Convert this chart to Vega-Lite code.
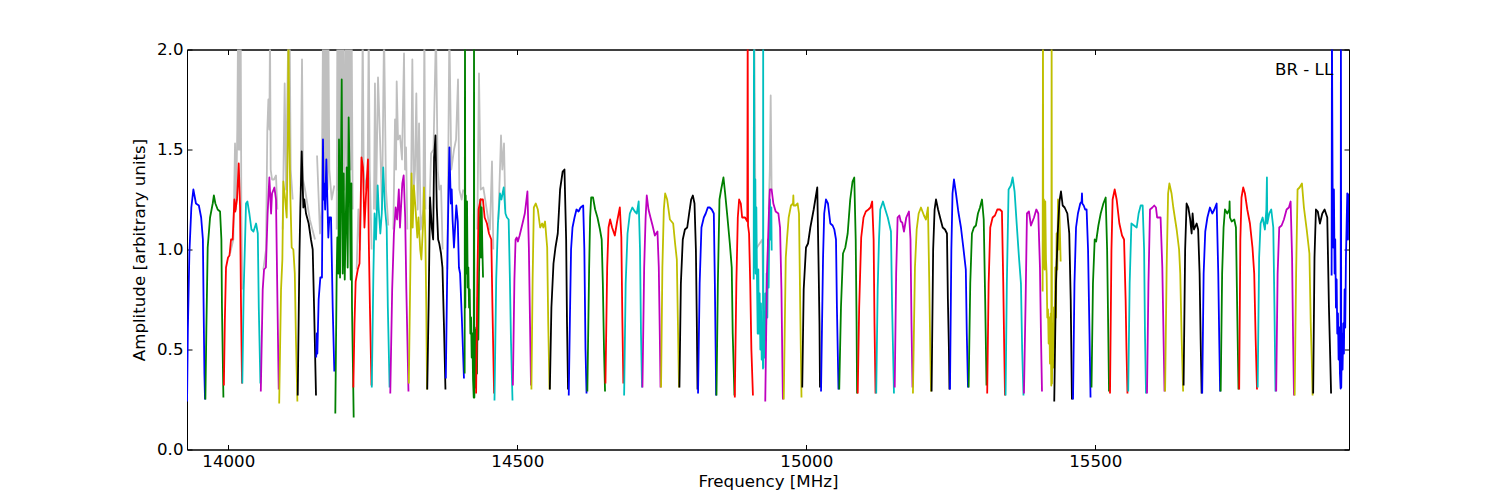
{"$schema":"https://vega.github.io/schema/vega-lite/v6.json","width":1162,"height":400,"autosize":"none","padding":{"left":187,"top":49.5,"right":151,"bottom":50.5},"background":"white","config":{"view":{"stroke":"black","strokeWidth":1},"font":"DejaVu Sans","axis":{"labelFont":"DejaVu Sans","titleFont":"DejaVu Sans","labelFontSize":16.67,"titleFontSize":16.67,"titleFontWeight":"normal","labelColor":"black","titleColor":"black","domainColor":"black","tickColor":"black","grid":false}},"datasets":{"gray":[
{"b":2,"f":14003,"a":0.98},{"b":2,"f":14008.7,"a":1.05},{"b":2,"f":14011.6,"a":1.53},{"b":2,"f":14013.3,"a":1.2},{"b":2,"f":14015.5,"a":1.6},{"b":2,"f":14016.8,"a":2.1},{"b":2,"f":14017.9,"a":1.5},{"b":2,"f":14019.1,"a":2.1},{"b":2,"f":14020.2,"a":1.5},{"b":2,"f":14021.4,"a":2.1},{"b":2,"f":14022.5,"a":1.2},{"b":2,"f":14024.3,"a":0.8},
{"b":4,"f":14060.6,"a":0.9},{"b":4,"f":14065.2,"a":1.0},{"b":4,"f":14067.5,"a":1.6},{"b":4,"f":14069.3,"a":1.75},{"b":4,"f":14071,"a":1.6},{"b":4,"f":14072.1,"a":2.1},{"b":4,"f":14073.3,"a":1.4},{"b":4,"f":14075.6,"a":1.35},{"b":4,"f":14079,"a":1.35},{"b":4,"f":14082.5,"a":1.37},{"b":4,"f":14084.8,"a":1.2},
{"b":5,"f":14094,"a":1.1},{"b":5,"f":14097.5,"a":1.83},{"b":5,"f":14099.8,"a":1.3},{"b":5,"f":14103.8,"a":2.1},{"b":5,"f":14106.1,"a":2.1},{"b":5,"f":14107.9,"a":1.4},{"b":5,"f":14111.4,"a":1.25},
{"b":6,"f":14125.2,"a":1.3},{"b":6,"f":14127.5,"a":1.95},{"b":6,"f":14129.2,"a":1.35},{"b":6,"f":14132.7,"a":1.3},{"b":6,"f":14141,"a":1.15},{"b":6,"f":14150,"a":1.05},
{"b":7,"f":14153.5,"a":1.47},{"b":7,"f":14158.6,"a":1.08},{"b":7,"f":14161.5,"a":1.2},{"b":7,"f":14163.8,"a":2.1},{"b":7,"f":14165,"a":1.3},{"b":7,"f":14166.1,"a":2.1},{"b":7,"f":14167.3,"a":1.3},{"b":7,"f":14168.5,"a":2.1},{"b":7,"f":14169.6,"a":1.3},{"b":7,"f":14170.8,"a":2.1},{"b":7,"f":14171.9,"a":1.3},{"b":7,"f":14173.1,"a":2.1},{"b":7,"f":14174.8,"a":1.4},{"b":7,"f":14178.8,"a":1.25},{"b":7,"f":14183.4,"a":1.32},
{"b":8,"f":14187.5,"a":1.1},{"b":8,"f":14188.6,"a":2.1},{"b":8,"f":14190.4,"a":1.3},{"b":8,"f":14192.1,"a":2.1},{"b":8,"f":14193.8,"a":1.4},{"b":8,"f":14195.6,"a":2.1},{"b":8,"f":14197.3,"a":1.4},{"b":8,"f":14199,"a":2.1},{"b":8,"f":14200.8,"a":1.3},{"b":8,"f":14203,"a":2.1},{"b":8,"f":14204.8,"a":1.4},{"b":8,"f":14206.5,"a":2.1},{"b":8,"f":14208.2,"a":1.4},{"b":8,"f":14210,"a":2.1},{"b":8,"f":14211.7,"a":1.4},{"b":8,"f":14213.4,"a":2.1},{"b":8,"f":14215.2,"a":1.2},
{"b":9,"f":14222,"a":0.9},{"b":9,"f":14225,"a":1.2},{"b":9,"f":14227.9,"a":1.0},{"b":9,"f":14230.7,"a":1.4},{"b":9,"f":14232.5,"a":2.1},{"b":9,"f":14234.2,"a":1.4},{"b":9,"f":14237.7,"a":1.3},{"b":9,"f":14241.1,"a":1.4},{"b":9,"f":14242.9,"a":2.1},{"b":9,"f":14244.6,"a":1.4},{"b":9,"f":14248,"a":1.0},
{"b":10,"f":14252,"a":1.2},{"b":10,"f":14253.7,"a":1.83},{"b":10,"f":14255.5,"a":1.2},{"b":10,"f":14259,"a":1.86},{"b":10,"f":14262.5,"a":1.55},{"b":10,"f":14266,"a":1.2},{"b":10,"f":14269.4,"a":2.1},{"b":10,"f":14272.8,"a":1.3},{"b":10,"f":14276.8,"a":1.12},
{"b":11,"f":14285.5,"a":1.1},{"b":11,"f":14288.4,"a":1.65},{"b":11,"f":14290.2,"a":1.4},{"b":11,"f":14291.3,"a":1.84},{"b":11,"f":14293.6,"a":1.55},{"b":11,"f":14297,"a":1.57},{"b":11,"f":14300.5,"a":1.45},{"b":11,"f":14304,"a":1.98},{"b":11,"f":14305.7,"a":1.4},{"b":11,"f":14307.5,"a":1.51},{"b":11,"f":14309.8,"a":1.1},
{"b":12,"f":14315.5,"a":1.1},{"b":12,"f":14318.4,"a":1.95},{"b":12,"f":14320.7,"a":1.3},{"b":12,"f":14323,"a":1.4},{"b":12,"f":14325.3,"a":1.78},{"b":12,"f":14327.6,"a":1.2},{"b":12,"f":14330,"a":1.63},{"b":12,"f":14332.9,"a":1.1},{"b":12,"f":14337.5,"a":1.2},{"b":12,"f":14339.2,"a":2.1},{"b":12,"f":14341,"a":1.2},
{"b":13,"f":14347.9,"a":1.2},{"b":13,"f":14350.8,"a":1.48},{"b":13,"f":14355,"a":1.5},{"b":13,"f":14359.3,"a":2.1},{"b":13,"f":14362.2,"a":1.4},{"b":13,"f":14365,"a":1.3},{"b":13,"f":14368,"a":1.32},{"b":13,"f":14370.8,"a":1.0},
{"b":14,"f":14379,"a":0.9},{"b":14,"f":14382.4,"a":2.1},{"b":14,"f":14385.9,"a":1.4},{"b":14,"f":14390.5,"a":1.5},{"b":14,"f":14394,"a":1.55},{"b":14,"f":14397.4,"a":1.85},{"b":14,"f":14399.7,"a":1.3},{"b":14,"f":14403.7,"a":1.25},{"b":14,"f":14406.6,"a":1.3},
{"b":16,"f":14430.8,"a":1.1},{"b":16,"f":14433.7,"a":1.88},{"b":16,"f":14436.6,"a":1.3},{"b":16,"f":14441.2,"a":1.31},{"b":16,"f":14447,"a":1.2},{"b":16,"f":14452.7,"a":1.1},{"b":16,"f":14456.2,"a":1.44},{"b":16,"f":14458.5,"a":1.0},
{"b":17,"f":14467.2,"a":1.15},{"b":17,"f":14470,"a":1.4},{"b":17,"f":14471.8,"a":1.57},{"b":17,"f":14474.1,"a":1.4},{"b":17,"f":14477,"a":1.53},{"b":17,"f":14479.3,"a":1.2},
{"b":31,"f":14910.1,"a":2.1},{"b":31,"f":14912.4,"a":1.0},{"b":31,"f":14923.9,"a":1.05},{"b":31,"f":14925.7,"a":0.7},
{"b":32,"f":14935,"a":1.2},{"b":32,"f":14936.9,"a":1.4},{"b":32,"f":14938.4,"a":1.77},{"b":32,"f":14940,"a":1.3}
],"bands":[
{"b":0,"f":13928.6,"a":0.24},{"b":0,"f":13930,"a":0.6},{"b":0,"f":13932.6,"a":0.98},{"b":0,"f":13936,"a":1.21},{"b":0,"f":13939.5,"a":1.3},{"b":0,"f":13944,"a":1.23},{"b":0,"f":13949,"a":1.22},{"b":0,"f":13953,"a":1.16},{"b":0,"f":13956,"a":1.05},{"b":0,"f":13957,"a":0.78},{"b":0,"f":13958.6,"a":0.38},{"b":0,"f":13959.7,"a":0.25},
{"b":1,"f":13960.3,"a":0.25},{"b":1,"f":13962,"a":0.6},{"b":1,"f":13964.3,"a":1.01},{"b":1,"f":13968.4,"a":1.16},{"b":1,"f":13973,"a":1.23},{"b":1,"f":13975,"a":1.27},{"b":1,"f":13977.6,"a":1.23},{"b":1,"f":13981.6,"a":1.2},{"b":1,"f":13985.7,"a":1.19},{"b":1,"f":13988,"a":1.05},{"b":1,"f":13989,"a":0.71},{"b":1,"f":13991.5,"a":0.26},
{"b":2,"f":13992.3,"a":0.32},{"b":2,"f":13994,"a":0.65},{"b":2,"f":13996,"a":0.91},{"b":2,"f":13999.5,"a":0.96},{"b":2,"f":14002,"a":0.97},{"b":2,"f":14004.7,"a":1.05},{"b":2,"f":14007.5,"a":1.05},{"b":2,"f":14010.5,"a":1.25},{"b":2,"f":14012,"a":1.19},{"b":2,"f":14015,"a":1.25},{"b":2,"f":14018,"a":1.43},{"b":2,"f":14020.3,"a":1.21},{"b":2,"f":14022,"a":0.71},{"b":2,"f":14023.7,"a":0.33},
{"b":3,"f":14024.2,"a":0.33},{"b":3,"f":14026.6,"a":0.8},{"b":3,"f":14029,"a":1.05},{"b":3,"f":14030.6,"a":1.23},{"b":3,"f":14033,"a":1.24},{"b":3,"f":14036.4,"a":1.18},{"b":3,"f":14040,"a":1.1},{"b":3,"f":14043.5,"a":1.09},{"b":3,"f":14048,"a":1.13},{"b":3,"f":14051,"a":1.08},{"b":3,"f":14052.7,"a":0.71},{"b":3,"f":14055.5,"a":0.33},
{"b":4,"f":14056.2,"a":0.29},{"b":4,"f":14059.5,"a":0.8},{"b":4,"f":14061.8,"a":0.9},{"b":4,"f":14065,"a":0.91},{"b":4,"f":14068,"a":1.18},{"b":4,"f":14071,"a":1.36},{"b":4,"f":14074,"a":1.18},{"b":4,"f":14075.6,"a":1.28},{"b":4,"f":14079.7,"a":1.31},{"b":4,"f":14082.5,"a":1.25},{"b":4,"f":14084.3,"a":0.88},{"b":4,"f":14087.2,"a":0.3},
{"b":5,"f":14088,"a":0.23},{"b":5,"f":14091.2,"a":0.8},{"b":5,"f":14093.5,"a":0.95},{"b":5,"f":14095.2,"a":1.34},{"b":5,"f":14098,"a":1.26},{"b":5,"f":14101,"a":1.16},{"b":5,"f":14103.2,"a":1.6},{"b":5,"f":14104,"a":2.1},{"b":5,"f":14105.5,"a":1.6},{"b":5,"f":14107,"a":1.3},{"b":5,"f":14109.6,"a":1.01},{"b":5,"f":14112.5,"a":1.0},{"b":5,"f":14115,"a":0.88},{"b":5,"f":14117,"a":0.55},{"b":5,"f":14119.5,"a":0.24},
{"b":6,"f":14120.1,"a":0.27},{"b":6,"f":14123,"a":0.96},{"b":6,"f":14124.6,"a":1.21},{"b":6,"f":14127,"a":1.49},{"b":6,"f":14129.8,"a":1.21},{"b":6,"f":14131.5,"a":1.25},{"b":6,"f":14134.4,"a":1.18},{"b":6,"f":14139,"a":1.13},{"b":6,"f":14143,"a":1.05},{"b":6,"f":14146,"a":1.0},{"b":6,"f":14148.4,"a":0.71},{"b":6,"f":14151.7,"a":0.27},
{"b":7,"f":14152,"a":0.46},{"b":7,"f":14153,"a":0.58},{"b":7,"f":14154,"a":0.48},{"b":7,"f":14156.3,"a":0.75},{"b":7,"f":14159.2,"a":0.86},{"b":7,"f":14162,"a":0.86},{"b":7,"f":14163.8,"a":1.55},{"b":7,"f":14165,"a":1.25},{"b":7,"f":14166,"a":1.33},{"b":7,"f":14167.5,"a":1.2},{"b":7,"f":14169.6,"a":1.45},{"b":7,"f":14171.5,"a":1.23},{"b":7,"f":14173,"a":1.06},{"b":7,"f":14174.8,"a":1.16},{"b":7,"f":14177.7,"a":1.16},{"b":7,"f":14180.6,"a":0.71},{"b":7,"f":14183.4,"a":0.39},
{"b":8,"f":14185.1,"a":0.18},{"b":8,"f":14187.5,"a":0.88},{"b":8,"f":14188.6,"a":1.06},{"b":8,"f":14190.4,"a":0.88},{"b":8,"f":14191.5,"a":1.55},{"b":8,"f":14193.3,"a":0.86},{"b":8,"f":14195,"a":1.46},{"b":8,"f":14196.2,"a":1.85},{"b":8,"f":14197.9,"a":0.88},{"b":8,"f":14199.6,"a":1.38},{"b":8,"f":14201.4,"a":0.85},{"b":8,"f":14203.1,"a":1.13},{"b":8,"f":14204.8,"a":1.41},{"b":8,"f":14206.5,"a":0.91},{"b":8,"f":14208.2,"a":1.66},{"b":8,"f":14210,"a":1.35},{"b":8,"f":14211.7,"a":0.85},{"b":8,"f":14212.9,"a":1.33},{"b":8,"f":14214,"a":0.71},{"b":8,"f":14215.8,"a":0.38},{"b":8,"f":14216.9,"a":0.16},
{"b":9,"f":14216.3,"a":0.31},{"b":9,"f":14218.3,"a":0.63},{"b":9,"f":14220.3,"a":0.84},{"b":9,"f":14224,"a":0.9},{"b":9,"f":14227,"a":0.93},{"b":9,"f":14230.4,"a":1.46},{"b":9,"f":14233,"a":1.41},{"b":9,"f":14235.5,"a":1.11},{"b":9,"f":14238,"a":1.26},{"b":9,"f":14241.6,"a":1.45},{"b":9,"f":14243,"a":1.05},{"b":9,"f":14245,"a":0.71},{"b":9,"f":14247.7,"a":0.32},
{"b":10,"f":14248.2,"a":0.31},{"b":10,"f":14251,"a":0.88},{"b":10,"f":14253,"a":1.18},{"b":10,"f":14255.5,"a":1.05},{"b":10,"f":14258.4,"a":1.32},{"b":10,"f":14260,"a":1.21},{"b":10,"f":14263,"a":1.08},{"b":10,"f":14265.5,"a":1.18},{"b":10,"f":14268,"a":1.41},{"b":10,"f":14271,"a":1.21},{"b":10,"f":14274,"a":1.11},{"b":10,"f":14276,"a":0.71},{"b":10,"f":14279,"a":0.31},
{"b":11,"f":14280.2,"a":0.28},{"b":11,"f":14283.5,"a":0.8},{"b":11,"f":14286.5,"a":1.08},{"b":11,"f":14289.5,"a":1.21},{"b":11,"f":14292,"a":1.15},{"b":11,"f":14295,"a":1.3},{"b":11,"f":14297,"a":1.11},{"b":11,"f":14301,"a":1.33},{"b":11,"f":14303.4,"a":1.37},{"b":11,"f":14306,"a":1.16},{"b":11,"f":14308,"a":0.8},{"b":11,"f":14311.7,"a":0.29},
{"b":12,"f":14312.3,"a":0.33},{"b":12,"f":14315,"a":0.91},{"b":12,"f":14317,"a":1.38},{"b":12,"f":14319,"a":1.11},{"b":12,"f":14321,"a":1.32},{"b":12,"f":14324,"a":1.2},{"b":12,"f":14327,"a":1.06},{"b":12,"f":14329,"a":1.16},{"b":12,"f":14332,"a":1.0},{"b":12,"f":14334,"a":0.95},{"b":12,"f":14337,"a":1.13},{"b":12,"f":14338.5,"a":1.31},{"b":12,"f":14341,"a":1.05},{"b":12,"f":14342.5,"a":0.71},{"b":12,"f":14343.8,"a":0.3},
{"b":13,"f":14344.2,"a":0.3},{"b":13,"f":14346.5,"a":0.71},{"b":13,"f":14349,"a":1.26},{"b":13,"f":14352,"a":1.11},{"b":13,"f":14354.4,"a":1.05},{"b":13,"f":14356,"a":1.46},{"b":13,"f":14358.4,"a":1.57},{"b":13,"f":14360.7,"a":1.21},{"b":13,"f":14363,"a":1.05},{"b":13,"f":14365,"a":1.03},{"b":13,"f":14368,"a":0.98},{"b":13,"f":14370.5,"a":0.91},{"b":13,"f":14373,"a":0.63},{"b":13,"f":14375.7,"a":0.3},
{"b":14,"f":14376.3,"a":0.355},{"b":14,"f":14379.5,"a":1.05},{"b":14,"f":14382.5,"a":1.51},{"b":14,"f":14385,"a":1.23},{"b":14,"f":14386.5,"a":1.3},{"b":14,"f":14388,"a":1.15},{"b":14,"f":14390.4,"a":1.01},{"b":14,"f":14394.5,"a":1.22},{"b":14,"f":14397,"a":1.14},{"b":14,"f":14399,"a":0.91},{"b":14,"f":14401,"a":0.88},{"b":14,"f":14404,"a":0.66},{"b":14,"f":14407.7,"a":0.355},
{"b":15,"f":14408.9,"a":0.38},{"b":15,"f":14409.5,"a":2.1},{"b":15,"f":14410.1,"a":0.71},{"b":15,"f":14410.7,"a":1.27},{"b":15,"f":14411.9,"a":0.88},{"b":15,"f":14413,"a":1.24},{"b":15,"f":14414.2,"a":0.81},{"b":15,"f":14415.3,"a":0.91},{"b":15,"f":14416.5,"a":0.71},{"b":15,"f":14417.6,"a":0.8},{"b":15,"f":14418.8,"a":0.58},{"b":15,"f":14420,"a":0.66},{"b":15,"f":14421.1,"a":0.46},{"b":15,"f":14422.2,"a":0.58},{"b":15,"f":14423.4,"a":0.35},{"b":15,"f":14424.6,"a":0.26},{"b":15,"f":14425.1,"a":2.1},{"b":15,"f":14425.7,"a":0.26},{"b":15,"f":14426.9,"a":0.6},{"b":15,"f":14428,"a":0.31},{"b":15,"f":14429.2,"a":0.61},{"b":15,"f":14430.3,"a":0.38},{"b":15,"f":14431.5,"a":0.76},{"b":15,"f":14432.6,"a":0.55},{"b":15,"f":14433.8,"a":0.88},{"b":15,"f":14434.9,"a":1.11},{"b":15,"f":14436.1,"a":1.25},{"b":15,"f":14437.2,"a":0.96},{"b":15,"f":14438.4,"a":1.21},{"b":15,"f":14439.5,"a":1.01},{"b":15,"f":14440.7,"a":0.86},
{"b":16,"f":14428.7,"a":0.28},{"b":16,"f":14431,"a":0.88},{"b":16,"f":14433,"a":1.2},{"b":16,"f":14436.5,"a":1.25},{"b":16,"f":14440.5,"a":1.25},{"b":16,"f":14443.5,"a":1.16},{"b":16,"f":14447.5,"a":1.13},{"b":16,"f":14451,"a":1.08},{"b":16,"f":14455,"a":1.05},{"b":16,"f":14457,"a":0.71},{"b":16,"f":14459.8,"a":0.28},
{"b":17,"f":14460.5,"a":0.245},{"b":17,"f":14463.5,"a":0.85},{"b":17,"f":14466.5,"a":1.13},{"b":17,"f":14470,"a":1.28},{"b":17,"f":14472.5,"a":1.25},{"b":17,"f":14476.5,"a":1.31},{"b":17,"f":14479.5,"a":1.18},{"b":17,"f":14482,"a":1.16},{"b":17,"f":14485,"a":1.15},{"b":17,"f":14487,"a":0.88},{"b":17,"f":14489,"a":0.55},{"b":17,"f":14491.7,"a":0.245},
{"b":18,"f":14492.3,"a":0.32},{"b":18,"f":14495,"a":0.85},{"b":18,"f":14497,"a":1.05},{"b":18,"f":14499,"a":1.06},{"b":18,"f":14501,"a":1.04},{"b":18,"f":14504,"a":1.07},{"b":18,"f":14509,"a":1.13},{"b":18,"f":14513,"a":1.18},{"b":18,"f":14517.5,"a":1.29},{"b":18,"f":14520,"a":1.01},{"b":18,"f":14522,"a":0.63},{"b":18,"f":14523.7,"a":0.32},
{"b":19,"f":14524.4,"a":0.3},{"b":19,"f":14526.5,"a":0.85},{"b":19,"f":14528.6,"a":1.21},{"b":19,"f":14532,"a":1.23},{"b":19,"f":14535.5,"a":1.2},{"b":19,"f":14539.5,"a":1.11},{"b":19,"f":14543,"a":1.13},{"b":19,"f":14545,"a":1.11},{"b":19,"f":14548,"a":1.14},{"b":19,"f":14551.7,"a":1.01},{"b":19,"f":14553.5,"a":0.63},{"b":19,"f":14555.7,"a":0.3},
{"b":20,"f":14556.3,"a":0.3},{"b":20,"f":14559,"a":0.71},{"b":20,"f":14562.6,"a":0.93},{"b":20,"f":14566,"a":1.01},{"b":20,"f":14570,"a":1.08},{"b":20,"f":14574,"a":1.3},{"b":20,"f":14578.5,"a":1.39},{"b":20,"f":14581.6,"a":1.4},{"b":20,"f":14584.5,"a":1.05},{"b":20,"f":14586,"a":0.63},{"b":20,"f":14587.8,"a":0.3},
{"b":21,"f":14589,"a":0.27},{"b":21,"f":14591,"a":0.65},{"b":21,"f":14593,"a":1.0},{"b":21,"f":14595.5,"a":1.11},{"b":21,"f":14599,"a":1.16},{"b":21,"f":14602.4,"a":1.2},{"b":21,"f":14606,"a":1.19},{"b":21,"f":14609.5,"a":1.21},{"b":21,"f":14614,"a":1.22},{"b":21,"f":14616,"a":1.0},{"b":21,"f":14618,"a":0.5},{"b":21,"f":14619.8,"a":0.28},
{"b":22,"f":14621.2,"a":0.29},{"b":22,"f":14624.3,"a":0.91},{"b":22,"f":14626,"a":1.16},{"b":22,"f":14627.8,"a":1.26},{"b":22,"f":14631,"a":1.26},{"b":22,"f":14634.7,"a":1.2},{"b":22,"f":14638.7,"a":1.16},{"b":22,"f":14643,"a":1.1},{"b":22,"f":14646,"a":1.05},{"b":22,"f":14648,"a":0.83},{"b":22,"f":14650,"a":0.5},{"b":22,"f":14651.8,"a":0.29},
{"b":23,"f":14652.5,"a":0.33},{"b":23,"f":14655.5,"a":0.91},{"b":23,"f":14657.8,"a":1.11},{"b":23,"f":14660.6,"a":1.15},{"b":23,"f":14664,"a":1.11},{"b":23,"f":14668.7,"a":1.07},{"b":23,"f":14672.7,"a":1.14},{"b":23,"f":14677.4,"a":1.21},{"b":23,"f":14680,"a":1.06},{"b":23,"f":14681.7,"a":0.66},{"b":23,"f":14683.5,"a":0.33},
{"b":24,"f":14684.8,"a":0.27},{"b":24,"f":14687.5,"a":0.83},{"b":24,"f":14690.7,"a":1.08},{"b":24,"f":14694.7,"a":1.18},{"b":24,"f":14699,"a":1.21},{"b":24,"f":14703.3,"a":1.19},{"b":24,"f":14706.8,"a":1.18},{"b":24,"f":14710,"a":1.24},{"b":24,"f":14712.3,"a":1.0},{"b":24,"f":14714,"a":0.58},{"b":24,"f":14715.8,"a":0.31},
{"b":25,"f":14716.5,"a":0.31},{"b":25,"f":14719.5,"a":0.91},{"b":25,"f":14722,"a":1.16},{"b":25,"f":14724,"a":1.27},{"b":25,"f":14727,"a":1.2},{"b":25,"f":14730.4,"a":1.16},{"b":25,"f":14734,"a":1.12},{"b":25,"f":14738,"a":1.07},{"b":25,"f":14742.5,"a":1.09},{"b":25,"f":14744.8,"a":0.91},{"b":25,"f":14746.5,"a":0.58},{"b":25,"f":14747.8,"a":0.31},
{"b":26,"f":14748.7,"a":0.31},{"b":26,"f":14751,"a":0.91},{"b":26,"f":14753.5,"a":1.2},{"b":26,"f":14755.8,"a":1.28},{"b":26,"f":14759.3,"a":1.25},{"b":26,"f":14764,"a":1.15},{"b":26,"f":14769.7,"a":1.13},{"b":26,"f":14773,"a":1.03},{"b":26,"f":14776,"a":0.95},{"b":26,"f":14777.7,"a":0.66},{"b":26,"f":14779.8,"a":0.31},
{"b":27,"f":14780.5,"a":0.31},{"b":27,"f":14783,"a":0.83},{"b":27,"f":14786.3,"a":1.05},{"b":27,"f":14790,"a":1.1},{"b":27,"f":14794,"a":1.11},{"b":27,"f":14797.3,"a":1.18},{"b":27,"f":14800.8,"a":1.25},{"b":27,"f":14803.7,"a":1.27},{"b":27,"f":14806.6,"a":1.23},{"b":27,"f":14809,"a":1.0},{"b":27,"f":14810.5,"a":0.66},{"b":27,"f":14811.8,"a":0.3},
{"b":28,"f":14812.7,"a":0.28},{"b":28,"f":14815.5,"a":0.83},{"b":28,"f":14818.6,"a":1.11},{"b":28,"f":14822.7,"a":1.16},{"b":28,"f":14826,"a":1.18},{"b":28,"f":14829.6,"a":1.21},{"b":28,"f":14833,"a":1.21},{"b":28,"f":14836.5,"a":1.2},{"b":28,"f":14840,"a":1.18},{"b":28,"f":14841.8,"a":0.83},{"b":28,"f":14843.2,"a":0.5},{"b":28,"f":14844,"a":0.27},
{"b":29,"f":14844.6,"a":0.27},{"b":29,"f":14847,"a":0.83},{"b":29,"f":14849.8,"a":1.25},{"b":29,"f":14852.7,"a":1.3},{"b":29,"f":14856.7,"a":1.36},{"b":29,"f":14859.6,"a":1.28},{"b":29,"f":14863.6,"a":1.16},{"b":29,"f":14867.7,"a":1.03},{"b":29,"f":14871,"a":0.91},{"b":29,"f":14872.7,"a":0.58},{"b":29,"f":14875.7,"a":0.27},
{"b":30,"f":14876.3,"a":0.26},{"b":30,"f":14879,"a":0.83},{"b":30,"f":14881.5,"a":1.16},{"b":30,"f":14883.8,"a":1.25},{"b":30,"f":14886.7,"a":1.23},{"b":30,"f":14889,"a":1.16},{"b":30,"f":14894,"a":1.16},{"b":30,"f":14898,"a":1.14},{"b":30,"f":14898.6,"a":2.1},{"b":30,"f":14899.2,"a":1.12},{"b":30,"f":14901,"a":1.08},{"b":30,"f":14903,"a":0.83},{"b":30,"f":14905,"a":0.5},{"b":30,"f":14907.7,"a":0.27},
{"b":31,"f":14909,"a":0.85},{"b":31,"f":14909.5,"a":2.1},{"b":31,"f":14910.1,"a":1.38},{"b":31,"f":14911.3,"a":0.91},{"b":31,"f":14911.8,"a":1.35},{"b":31,"f":14912.4,"a":0.88},{"b":31,"f":14913.6,"a":1.21},{"b":31,"f":14914.7,"a":0.85},{"b":31,"f":14915.9,"a":0.58},{"b":31,"f":14917,"a":0.9},{"b":31,"f":14918.2,"a":0.58},{"b":31,"f":14919.3,"a":0.78},{"b":31,"f":14920.5,"a":0.5},{"b":31,"f":14921.6,"a":0.73},{"b":31,"f":14922.8,"a":0.45},{"b":31,"f":14923.9,"a":0.58},{"b":31,"f":14925.1,"a":0.405},{"b":31,"f":14925.4,"a":2.1},{"b":31,"f":14925.7,"a":0.41},{"b":31,"f":14926.8,"a":0.68},{"b":31,"f":14928,"a":0.46},{"b":31,"f":14929.1,"a":0.78},{"b":31,"f":14930.3,"a":0.55},{"b":31,"f":14931.4,"a":0.88},{"b":31,"f":14932.6,"a":0.66},{"b":31,"f":14933.7,"a":1.05},{"b":31,"f":14934.9,"a":0.81},{"b":31,"f":14936,"a":1.11},{"b":31,"f":14937.2,"a":1.25},{"b":31,"f":14938.4,"a":1.05},{"b":31,"f":14939.5,"a":1.21},{"b":31,"f":14940.1,"a":0.995},
{"b":32,"f":14929,"a":0.24},{"b":32,"f":14932,"a":0.88},{"b":32,"f":14935.5,"a":1.2},{"b":32,"f":14937,"a":1.3},{"b":32,"f":14940,"a":1.3},{"b":32,"f":14943,"a":1.23},{"b":32,"f":14947,"a":1.19},{"b":32,"f":14951.7,"a":1.18},{"b":32,"f":14954.6,"a":1.11},{"b":32,"f":14957,"a":0.8},{"b":32,"f":14958.5,"a":0.46},{"b":32,"f":14959.5,"a":0.25},
{"b":33,"f":14961,"a":0.25},{"b":33,"f":14964.5,"a":0.96},{"b":33,"f":14966.6,"a":1.05},{"b":33,"f":14969.5,"a":1.16},{"b":33,"f":14973.5,"a":1.22},{"b":33,"f":14977,"a":1.23},{"b":33,"f":14977.6,"a":1.27},{"b":33,"f":14978.2,"a":1.22},{"b":33,"f":14981.6,"a":1.22},{"b":33,"f":14985,"a":1.23},{"b":33,"f":14987.4,"a":1.18},{"b":33,"f":14989.5,"a":0.71},{"b":33,"f":14991.7,"a":0.26},
{"b":34,"f":14993,"a":0.31},{"b":34,"f":14995.5,"a":0.8},{"b":34,"f":14999.5,"a":1.01},{"b":34,"f":15003,"a":1.03},{"b":34,"f":15007,"a":1.11},{"b":34,"f":15012.8,"a":1.2},{"b":34,"f":15019,"a":1.31},{"b":34,"f":15021.5,"a":0.88},{"b":34,"f":15022.8,"a":0.63},{"b":34,"f":15023.7,"a":0.31},
{"b":35,"f":15025.5,"a":0.29},{"b":35,"f":15029,"a":0.96},{"b":35,"f":15031,"a":1.18},{"b":35,"f":15034,"a":1.25},{"b":35,"f":15037.5,"a":1.23},{"b":35,"f":15041.6,"a":1.13},{"b":35,"f":15045.6,"a":1.12},{"b":35,"f":15048.5,"a":1.1},{"b":35,"f":15051.4,"a":1.05},{"b":35,"f":15053,"a":0.71},{"b":35,"f":15055.7,"a":0.3},
{"b":36,"f":15057,"a":0.3},{"b":36,"f":15060,"a":0.71},{"b":36,"f":15063.5,"a":0.98},{"b":36,"f":15067.5,"a":1.01},{"b":36,"f":15071.6,"a":1.08},{"b":36,"f":15076,"a":1.25},{"b":36,"f":15080,"a":1.34},{"b":36,"f":15083,"a":1.36},{"b":36,"f":15085.5,"a":1.05},{"b":36,"f":15087,"a":0.63},{"b":36,"f":15087.9,"a":0.28},
{"b":37,"f":15089,"a":0.28},{"b":37,"f":15091.5,"a":0.71},{"b":37,"f":15095,"a":1.06},{"b":37,"f":15099,"a":1.16},{"b":37,"f":15103,"a":1.19},{"b":37,"f":15107.5,"a":1.2},{"b":37,"f":15111,"a":1.21},{"b":37,"f":15114,"a":1.24},{"b":37,"f":15116.5,"a":1.05},{"b":37,"f":15118,"a":0.63},{"b":37,"f":15119.8,"a":0.28},
{"b":38,"f":15121,"a":0.28},{"b":38,"f":15123.5,"a":0.8},{"b":38,"f":15125.8,"a":1.05},{"b":38,"f":15128,"a":1.2},{"b":38,"f":15132.7,"a":1.24},{"b":38,"f":15136.7,"a":1.2},{"b":38,"f":15141,"a":1.16},{"b":38,"f":15146.5,"a":1.09},{"b":38,"f":15148.5,"a":0.71},{"b":38,"f":15151.7,"a":0.28},
{"b":39,"f":15153,"a":0.31},{"b":39,"f":15155.5,"a":0.88},{"b":39,"f":15158,"a":1.16},{"b":39,"f":15161,"a":1.17},{"b":39,"f":15163.5,"a":1.14},{"b":39,"f":15166,"a":1.135},{"b":39,"f":15169,"a":1.09},{"b":39,"f":15173,"a":1.16},{"b":39,"f":15177.6,"a":1.19},{"b":39,"f":15180.3,"a":1.05},{"b":39,"f":15182,"a":0.63},{"b":39,"f":15183.8,"a":0.31},
{"b":40,"f":15184.5,"a":0.28},{"b":40,"f":15188,"a":0.91},{"b":40,"f":15191,"a":1.1},{"b":40,"f":15194.4,"a":1.18},{"b":40,"f":15198.4,"a":1.21},{"b":40,"f":15203.6,"a":1.17},{"b":40,"f":15207,"a":1.15},{"b":40,"f":15210.5,"a":1.21},{"b":40,"f":15212.8,"a":0.83},{"b":40,"f":15214.5,"a":0.5},{"b":40,"f":15215.8,"a":0.29},
{"b":41,"f":15216.8,"a":0.29},{"b":41,"f":15219.5,"a":1.0},{"b":41,"f":15222,"a":1.2},{"b":41,"f":15224.4,"a":1.25},{"b":41,"f":15228,"a":1.2},{"b":41,"f":15232.4,"a":1.15},{"b":41,"f":15236,"a":1.11},{"b":41,"f":15240,"a":1.1},{"b":41,"f":15243.4,"a":1.08},{"b":41,"f":15245,"a":0.75},{"b":41,"f":15246.8,"a":0.5},{"b":41,"f":15247.7,"a":0.3},
{"b":42,"f":15248.6,"a":0.3},{"b":42,"f":15251,"a":1.0},{"b":42,"f":15253,"a":1.28},{"b":42,"f":15255.5,"a":1.35},{"b":42,"f":15259,"a":1.28},{"b":42,"f":15263,"a":1.19},{"b":42,"f":15267.6,"a":1.11},{"b":42,"f":15271.7,"a":1.01},{"b":42,"f":15276,"a":0.9},{"b":42,"f":15277.7,"a":0.58},{"b":42,"f":15279.8,"a":0.31},
{"b":43,"f":15280.9,"a":0.31},{"b":43,"f":15283.7,"a":0.83},{"b":43,"f":15286.6,"a":1.08},{"b":43,"f":15290,"a":1.11},{"b":43,"f":15293.5,"a":1.12},{"b":43,"f":15297,"a":1.18},{"b":43,"f":15300.5,"a":1.21},{"b":43,"f":15304,"a":1.25},{"b":43,"f":15307,"a":1.15},{"b":43,"f":15309.5,"a":0.75},{"b":43,"f":15311.8,"a":0.32},
{"b":44,"f":15313,"a":0.28},{"b":44,"f":15315.5,"a":0.83},{"b":44,"f":15318.3,"a":1.11},{"b":44,"f":15322.4,"a":1.16},{"b":44,"f":15326.4,"a":1.17},{"b":44,"f":15330.5,"a":1.2},{"b":44,"f":15335,"a":1.2},{"b":44,"f":15338.5,"a":1.19},{"b":44,"f":15340.8,"a":0.83},{"b":44,"f":15342.5,"a":0.5},{"b":44,"f":15343.8,"a":0.27},
{"b":45,"f":15344.8,"a":0.27},{"b":45,"f":15347,"a":0.83},{"b":45,"f":15350,"a":1.3},{"b":45,"f":15354,"a":1.32},{"b":45,"f":15357,"a":1.36},{"b":45,"f":15360.4,"a":1.29},{"b":45,"f":15364,"a":1.13},{"b":45,"f":15368,"a":0.96},{"b":45,"f":15371.4,"a":0.83},{"b":45,"f":15373.5,"a":0.5},{"b":45,"f":15375.8,"a":0.27},
{"b":46,"f":15376.6,"a":0.28},{"b":46,"f":15379.5,"a":0.75},{"b":46,"f":15381.8,"a":1.18},{"b":46,"f":15385.2,"a":1.19},{"b":46,"f":15388.7,"a":1.12},{"b":46,"f":15394,"a":1.16},{"b":46,"f":15398,"a":1.2},{"b":46,"f":15401.4,"a":1.18},{"b":46,"f":15404.3,"a":0.91},{"b":46,"f":15406,"a":0.58},{"b":46,"f":15407.8,"a":0.29},
{"b":47,"f":15408.9,"a":0.79},{"b":47,"f":15409.5,"a":2.1},{"b":47,"f":15410.1,"a":0.91},{"b":47,"f":15411.2,"a":1.25},{"b":47,"f":15412.4,"a":0.9},{"b":47,"f":15413.5,"a":1.24},{"b":47,"f":15414.7,"a":0.95},{"b":47,"f":15415.8,"a":0.88},{"b":47,"f":15417,"a":0.66},{"b":47,"f":15418.2,"a":0.7},{"b":47,"f":15419.3,"a":0.53},{"b":47,"f":15420.5,"a":0.66},{"b":47,"f":15421.6,"a":0.43},{"b":47,"f":15422.8,"a":0.68},{"b":47,"f":15423.9,"a":0.32},{"b":47,"f":15424.5,"a":2.1},{"b":47,"f":15425.1,"a":0.33},{"b":47,"f":15426.2,"a":0.63},{"b":47,"f":15427.4,"a":0.41},{"b":47,"f":15428.5,"a":0.71},{"b":47,"f":15429.7,"a":0.51},{"b":47,"f":15430.8,"a":0.91},{"b":47,"f":15432,"a":0.66},{"b":47,"f":15433.1,"a":1.08},{"b":47,"f":15434.3,"a":0.9},{"b":47,"f":15435.5,"a":1.25},{"b":47,"f":15436.6,"a":1.0},{"b":47,"f":15437.8,"a":1.21},{"b":47,"f":15438.9,"a":1.08},{"b":47,"f":15440.1,"a":0.94},
{"b":48,"f":15429,"a":0.24},{"b":48,"f":15432,"a":0.83},{"b":48,"f":15435,"a":1.08},{"b":48,"f":15438,"a":1.24},{"b":48,"f":15440.7,"a":1.29},{"b":48,"f":15443.6,"a":1.22},{"b":48,"f":15447,"a":1.21},{"b":48,"f":15451.7,"a":1.18},{"b":48,"f":15455,"a":1.08},{"b":48,"f":15457.5,"a":0.75},{"b":48,"f":15459.6,"a":0.25},
{"b":49,"f":15461.5,"a":0.25},{"b":49,"f":15464,"a":0.83},{"b":49,"f":15466.7,"a":1.11},{"b":49,"f":15470,"a":1.18},{"b":49,"f":15474,"a":1.23},{"b":49,"f":15476.4,"a":1.24},{"b":49,"f":15477,"a":1.28},{"b":49,"f":15477.6,"a":1.23},{"b":49,"f":15480,"a":1.22},{"b":49,"f":15482.5,"a":1.2},{"b":49,"f":15485,"a":1.2},{"b":49,"f":15487.5,"a":1.0},{"b":49,"f":15490,"a":0.58},{"b":49,"f":15491.8,"a":0.26},
{"b":50,"f":15493.5,"a":0.31},{"b":50,"f":15496,"a":0.83},{"b":50,"f":15499,"a":1.05},{"b":50,"f":15501.5,"a":1.04},{"b":50,"f":15505.4,"a":1.12},{"b":50,"f":15509.4,"a":1.18},{"b":50,"f":15514,"a":1.23},{"b":50,"f":15518,"a":1.26},{"b":50,"f":15520.5,"a":1.0},{"b":50,"f":15522.5,"a":0.58},{"b":50,"f":15523.8,"a":0.29},
{"b":51,"f":15525.5,"a":0.28},{"b":51,"f":15528,"a":1.0},{"b":51,"f":15530,"a":1.25},{"b":51,"f":15533.6,"a":1.3},{"b":51,"f":15537,"a":1.25},{"b":51,"f":15541.7,"a":1.13},{"b":51,"f":15546.3,"a":1.07},{"b":51,"f":15549.8,"a":1.05},{"b":51,"f":15552.5,"a":0.75},{"b":51,"f":15554,"a":0.5},{"b":51,"f":15555.7,"a":0.28},
{"b":52,"f":15557,"a":0.29},{"b":52,"f":15559.5,"a":0.83},{"b":52,"f":15562.5,"a":1.13},{"b":52,"f":15567,"a":1.12},{"b":52,"f":15571.7,"a":1.11},{"b":52,"f":15575,"a":1.18},{"b":52,"f":15578.6,"a":1.22},{"b":52,"f":15582,"a":1.22},{"b":52,"f":15584.5,"a":1.0},{"b":52,"f":15586,"a":0.58},{"b":52,"f":15587.8,"a":0.28},
{"b":53,"f":15589.5,"a":0.28},{"b":53,"f":15592,"a":0.83},{"b":53,"f":15594.7,"a":1.2},{"b":53,"f":15598.8,"a":1.21},{"b":53,"f":15602,"a":1.22},{"b":53,"f":15605,"a":1.21},{"b":53,"f":15607,"a":1.16},{"b":53,"f":15613,"a":1.16},{"b":53,"f":15616,"a":0.91},{"b":53,"f":15618,"a":0.58},{"b":53,"f":15619.8,"a":0.29},
{"b":54,"f":15620.8,"a":0.29},{"b":54,"f":15623.5,"a":0.91},{"b":54,"f":15626,"a":1.28},{"b":54,"f":15628.2,"a":1.33},{"b":54,"f":15632,"a":1.28},{"b":54,"f":15635,"a":1.21},{"b":54,"f":15640.8,"a":1.1},{"b":54,"f":15645,"a":1.0},{"b":54,"f":15647,"a":0.88},{"b":54,"f":15649.5,"a":0.55},{"b":54,"f":15652,"a":0.29},
{"b":55,"f":15652.8,"a":0.32},{"b":55,"f":15655.5,"a":1.0},{"b":55,"f":15658,"a":1.23},{"b":55,"f":15661,"a":1.21},{"b":55,"f":15664,"a":1.155},{"b":55,"f":15666.7,"a":1.08},{"b":55,"f":15668.4,"a":1.18},{"b":55,"f":15670.8,"a":1.1},{"b":55,"f":15675.4,"a":1.13},{"b":55,"f":15678,"a":1.1},{"b":55,"f":15680.5,"a":0.88},{"b":55,"f":15682.3,"a":0.55},{"b":55,"f":15684,"a":0.28},
{"b":56,"f":15685,"a":0.28},{"b":56,"f":15687.5,"a":0.88},{"b":56,"f":15690.3,"a":1.09},{"b":56,"f":15694,"a":1.16},{"b":56,"f":15698.4,"a":1.21},{"b":56,"f":15702.5,"a":1.18},{"b":56,"f":15706,"a":1.2},{"b":56,"f":15710,"a":1.23},{"b":56,"f":15712.8,"a":0.88},{"b":56,"f":15714.5,"a":0.55},{"b":56,"f":15716,"a":0.29},
{"b":57,"f":15717,"a":0.29},{"b":57,"f":15719.5,"a":0.88},{"b":57,"f":15722,"a":1.11},{"b":57,"f":15724.4,"a":1.2},{"b":57,"f":15728.4,"a":1.18},{"b":57,"f":15732,"a":1.2},{"b":57,"f":15732.4,"a":1.24},{"b":57,"f":15733,"a":1.16},{"b":57,"f":15736,"a":1.14},{"b":57,"f":15740.5,"a":1.15},{"b":57,"f":15743.4,"a":1.11},{"b":57,"f":15745.5,"a":0.71},{"b":57,"f":15747.8,"a":0.3},
{"b":58,"f":15749,"a":0.3},{"b":58,"f":15751,"a":1.05},{"b":58,"f":15753,"a":1.26},{"b":58,"f":15756,"a":1.31},{"b":58,"f":15759,"a":1.28},{"b":58,"f":15763,"a":1.2},{"b":58,"f":15767.6,"a":1.13},{"b":58,"f":15772,"a":1.01},{"b":58,"f":15775,"a":0.88},{"b":58,"f":15777.5,"a":0.55},{"b":58,"f":15779.8,"a":0.3},
{"b":59,"f":15781,"a":0.31},{"b":59,"f":15783.5,"a":0.96},{"b":59,"f":15786,"a":1.13},{"b":59,"f":15789.5,"a":1.16},{"b":59,"f":15793.5,"a":1.1},{"b":59,"f":15796,"a":1.2},{"b":59,"f":15797,"a":1.36},{"b":59,"f":15797.6,"a":1.13},{"b":59,"f":15801,"a":1.18},{"b":59,"f":15804.5,"a":1.2},{"b":59,"f":15808,"a":1.11},{"b":59,"f":15810,"a":0.71},{"b":59,"f":15811.8,"a":0.29},
{"b":60,"f":15813,"a":0.29},{"b":60,"f":15815.5,"a":0.88},{"b":60,"f":15818.3,"a":1.11},{"b":60,"f":15822.4,"a":1.12},{"b":60,"f":15826.4,"a":1.15},{"b":60,"f":15831,"a":1.2},{"b":60,"f":15835,"a":1.21},{"b":60,"f":15838,"a":1.24},{"b":60,"f":15840.5,"a":0.96},{"b":60,"f":15842.3,"a":0.55},{"b":60,"f":15843.8,"a":0.27},
{"b":61,"f":15845,"a":0.27},{"b":61,"f":15847.5,"a":0.88},{"b":61,"f":15850,"a":1.3},{"b":61,"f":15853.5,"a":1.31},{"b":61,"f":15857.6,"a":1.33},{"b":61,"f":15861,"a":1.21},{"b":61,"f":15865.8,"a":1.1},{"b":61,"f":15870.5,"a":0.98},{"b":61,"f":15872.8,"a":0.63},{"b":61,"f":15874.5,"a":0.46},{"b":61,"f":15876,"a":0.27},
{"b":62,"f":15877,"a":0.28},{"b":62,"f":15879.3,"a":0.96},{"b":62,"f":15881.8,"a":1.2},{"b":62,"f":15885,"a":1.19},{"b":62,"f":15888.7,"a":1.13},{"b":62,"f":15892.8,"a":1.18},{"b":62,"f":15896.8,"a":1.2},{"b":62,"f":15901.4,"a":1.16},{"b":62,"f":15904.3,"a":0.71},{"b":62,"f":15906.5,"a":0.46},{"b":62,"f":15908,"a":0.28},
{"b":63,"f":15908.9,"a":0.87},{"b":63,"f":15909.5,"a":2.1},{"b":63,"f":15910.6,"a":1.33},{"b":63,"f":15911.8,"a":1.01},{"b":63,"f":15912.9,"a":1.3},{"b":63,"f":15914.1,"a":0.88},{"b":63,"f":15915.2,"a":1.05},{"b":63,"f":15916.4,"a":0.71},{"b":63,"f":15917.6,"a":0.85},{"b":63,"f":15918.7,"a":0.58},{"b":63,"f":15919.9,"a":0.68},{"b":63,"f":15921,"a":0.45},{"b":63,"f":15922.2,"a":0.61},{"b":63,"f":15923.3,"a":0.38},{"b":63,"f":15924.5,"a":0.305},{"b":63,"f":15925,"a":2.1},{"b":63,"f":15925.6,"a":0.31},{"b":63,"f":15926.8,"a":0.58},{"b":63,"f":15927.9,"a":0.4},{"b":63,"f":15929.1,"a":0.63},{"b":63,"f":15930.2,"a":0.48},{"b":63,"f":15931.4,"a":0.8},{"b":63,"f":15932.5,"a":0.61},{"b":63,"f":15933.7,"a":0.96},{"b":63,"f":15934.8,"a":1.11},{"b":63,"f":15936,"a":1.28},{"b":63,"f":15937.2,"a":1.05},{"b":63,"f":15937.7,"a":1.28}
]},"layer":[
{"data":{"name":"gray"},"mark":{"type":"line","clip":true,"stroke":"#bfbfbf","strokeWidth":1.8,"strokeJoin":"round"},"encoding":{"detail":{"field":"b","type":"ordinal"},"x":{"field":"f","type":"quantitative","scale":{"domain":[13928.5,15939],"nice":false,"zero":false},"axis":{"orient":"bottom","values":[14000,14500,15000,15500],"format":"d","tickSize":-5,"labelPadding":9,"title":"Frequency [MHz]","titlePadding":3}},"y":{"field":"a","type":"quantitative","scale":{"domain":[0,2],"nice":false},"axis":{"orient":"left","values":[0,0.5,1,1.5,2],"format":".1f","tickSize":-5,"labelPadding":9,"title":"Amplitude [arbitrary units]","titlePadding":8}}}},
{"data":{"name":"bands"},"mark":{"type":"line","clip":true,"strokeWidth":1.8,"strokeJoin":"round"},"encoding":{"color":{"field":"b","type":"ordinal","legend":null,"scale":{"range":["#0000ff","#008000","#ff0000","#00bfbf","#bf00bf","#bfbf00","#000000"]}},"x":{"field":"f","type":"quantitative","axis":{"orient":"top","values":[14000,14500,15000,15500],"tickSize":-5,"labels":false,"title":null}},"y":{"field":"a","type":"quantitative","axis":{"orient":"right","values":[0,0.5,1,1.5,2],"tickSize":-5,"labels":false,"title":null}}}},
{"data":{"values":[{"f":15811,"a":1.9,"t":"BR - LL"}]},"mark":{"type":"text","align":"left","baseline":"middle","fontSize":16.67,"font":"DejaVu Sans","color":"black"},"encoding":{"x":{"field":"f","type":"quantitative","axis":null},"y":{"field":"a","type":"quantitative","axis":null},"text":{"field":"t"}}}
],"resolve":{"axis":{"x":"independent","y":"independent"},"scale":{"x":"shared","y":"shared"}}}
